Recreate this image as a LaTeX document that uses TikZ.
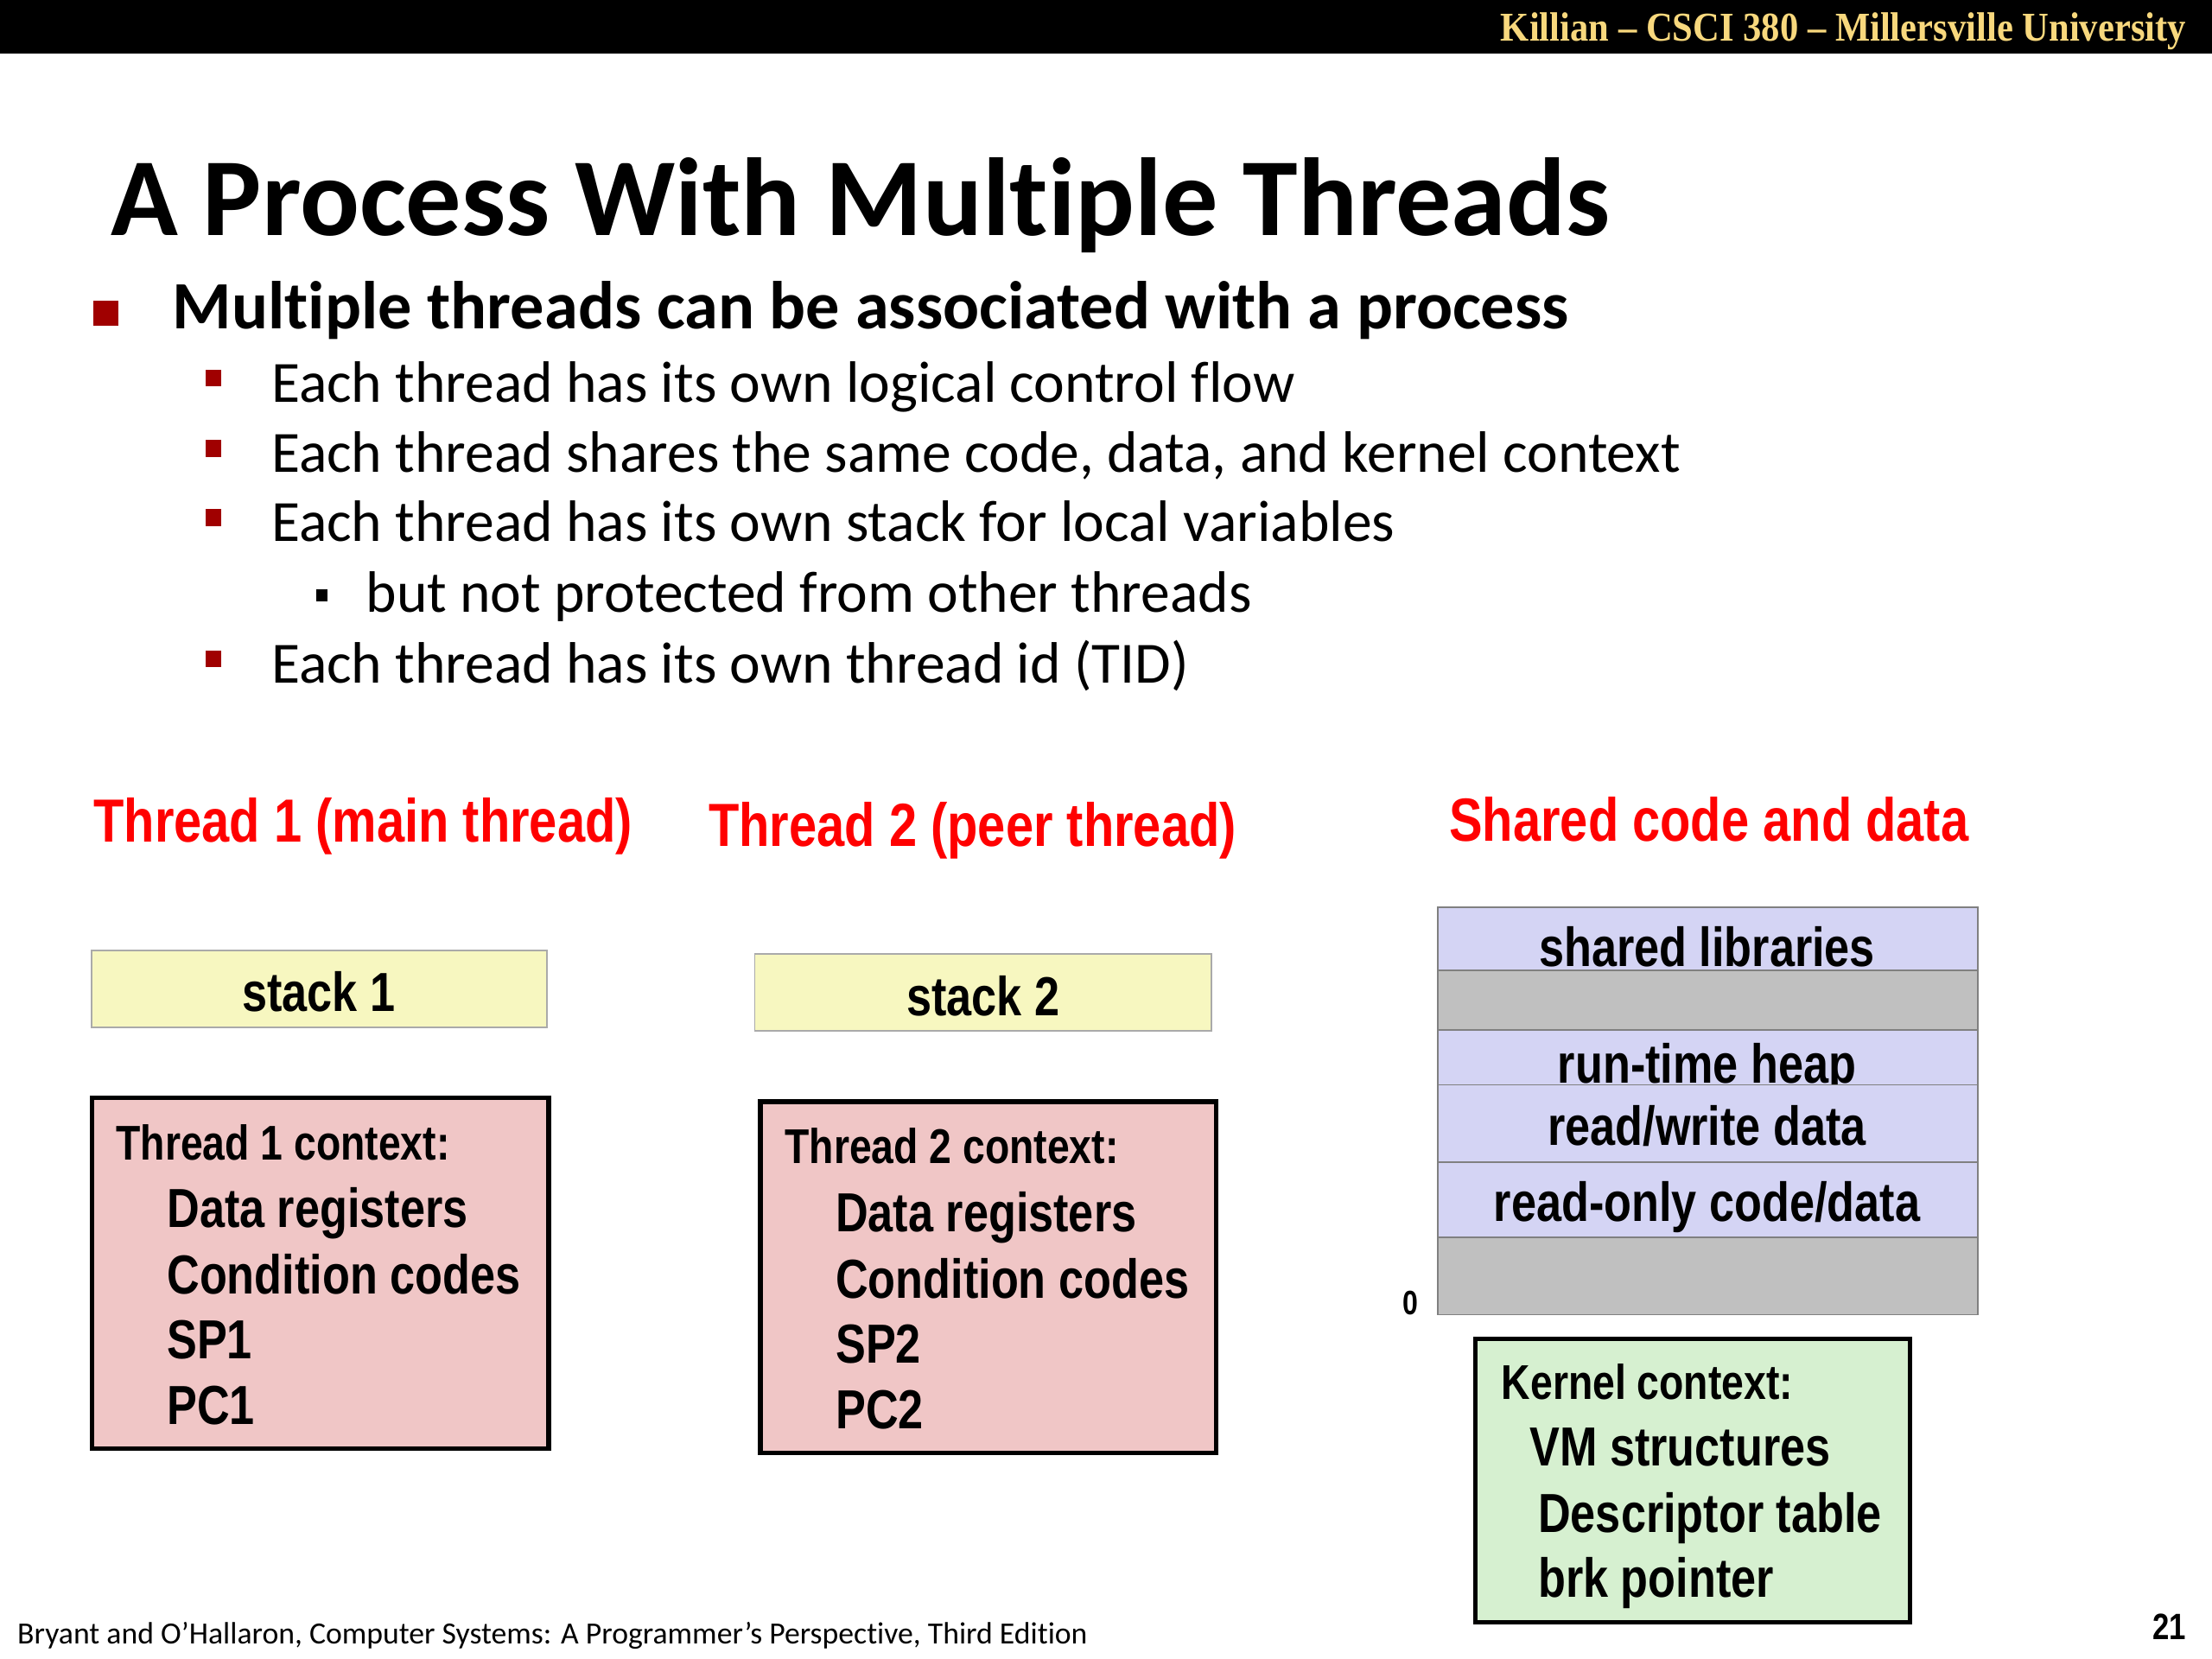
\documentclass[tikz,border=0pt]{standalone}
\usepackage{fontspec}
\setmainfont[Ligatures={TeX,NoCommon}]{Carlito}
\newfontfamily\narrowfont[FakeStretch=0.82]{Liberation Sans}
\newfontfamily\hdrfont[FakeStretch=0.9]{Liberation Serif}
\definecolor{bulletred}{RGB}{160,0,0}
\definecolor{headred}{RGB}{255,0,0}
\definecolor{stackyellow}{RGB}{247,247,192}
\definecolor{stackborder}{RGB}{170,170,170}
\definecolor{pinkfill}{RGB}{240,198,198}
\definecolor{lav}{RGB}{212,212,244}
\definecolor{greyseg}{RGB}{192,192,192}
\definecolor{segborder}{RGB}{128,128,128}
\definecolor{greenfill}{RGB}{214,240,208}
\definecolor{gold}{RGB}{248,216,125}
\tikzset{
  txt/.style={inner sep=0pt, anchor=base west},
  titletxt/.style={txt, font=\fontsize{39.3}{39.3}\selectfont\bfseries},
  lonetxt/.style={txt, font=\fontsize{24}{24}\selectfont\bfseries},
  ltwotxt/.style={txt, font=\fontsize{20.7}{20.7}\selectfont},
  headtxt/.style={txt, text=headred, font=\narrowfont\fontsize{21.6}{21.6}\selectfont\bfseries},
  boxhead/.style={txt, font=\narrowfont\fontsize{17.3}{17.3}\selectfont\bfseries},
  boxitem/.style={txt, font=\narrowfont\fontsize{19.5}{19.5}\selectfont\bfseries},
  segtxt/.style={inner sep=0pt, anchor=base, font=\narrowfont\fontsize{19.5}{19.5}\selectfont\bfseries},
  stackbox/.style={fill=stackyellow, draw=stackborder, line width=0.6pt},
  ctxbox/.style={fill=pinkfill, draw=black, line width=1.6pt},
  kernbox/.style={fill=greenfill, draw=black, line width=1.6pt},
  lavseg/.style={fill=lav, draw=segborder, line width=0.5pt},
  greyseg/.style={fill=greyseg, draw=segborder, line width=0.5pt},
  bigbullet/.style={fill=bulletred, draw=none},
  redbullet/.style={fill=bulletred, draw=none},
  blkbullet/.style={fill=black, draw=none},
}
\begin{document}
\begin{tikzpicture}[x=0.5pt, y=-0.5pt]
\useasboundingbox (0,0) rectangle (1568,1176);
% header bar
\fill[black] (0,0) rectangle (1568,38);
\node[inner sep=0pt, anchor=base east, text=gold, font=\hdrfont\fontsize{14.5}{14.5}\selectfont\bfseries] (hdr) at (1550,29) {Killian – CSCI 380 – Millersville University};
% title
\node[titletxt] (title) at (78,167) {A Process With Multiple Threads};
% bullets
\fill[bigbullet] (66,213) rectangle (84,231);
\node[lonetxt] (l1) at (122,233) {Multiple threads can be associated with a process};
\fill[redbullet] (146,262) rectangle (157,274);
\node[ltwotxt] (l2a) at (192,285) {Each thread has its own logical control flow};
\fill[redbullet] (146,312) rectangle (157,324);
\node[ltwotxt] (l2b) at (192,335) {Each thread shares the same code, data, and kernel context};
\fill[redbullet] (146,361) rectangle (157,373);
\node[ltwotxt] (l2c) at (192,384) {Each thread has its own stack for local variables};
\fill[blkbullet] (224,418) rectangle (232,426);
\node[ltwotxt] (l3a) at (259,434) {but not protected from other threads};
\fill[redbullet] (146,461) rectangle (157,473);
\node[ltwotxt] (l2d) at (192,484) {Each thread has its own thread id (TID)};
% headings
\node[headtxt] (h1) at (66,597) {Thread 1 (main thread)};
\node[headtxt] (h2) at (502,600) {Thread 2 (peer thread)};
\node[headtxt] (h3) at (1027,596) {Shared code and data};
% stacks
\draw[stackbox] (65,674) rectangle (388,728);
\node[segtxt] (s1) at (226,717) {stack 1};
\draw[stackbox] (535,676) rectangle (859,731);
\node[segtxt] (s2) at (697,720) {stack 2};
% thread 1 context
\draw[ctxbox] (65,778) rectangle (389,1027);
\node[boxhead] (c1h) at (82,822) {Thread 1 context:};
\node[boxitem] (c1a) at (118,870) {Data registers};
\node[boxitem] (c1b) at (118,917) {Condition codes};
\node[boxitem] (c1c) at (118,963) {SP1};
\node[boxitem] (c1d) at (118,1010) {PC1};
% thread 2 context
\draw[ctxbox] (539,781) rectangle (862,1030);
\node[boxhead] (c2h) at (556,825) {Thread 2 context:};
\node[boxitem] (c2a) at (592,873) {Data registers};
\node[boxitem] (c2b) at (592,920) {Condition codes};
\node[boxitem] (c2c) at (592,966) {SP2};
\node[boxitem] (c2d) at (592,1013) {PC2};
% shared memory
\draw[lavseg] (1019,643) rectangle (1402,688);
\node[segtxt] (m1) at (1210,685) {shared libraries};
\draw[greyseg] (1019,688) rectangle (1402,730);
\draw[lavseg] (1019,730) rectangle (1402,769);
\node[segtxt] (m2) at (1210,768) {run-time heap};
\draw[lavseg] (1019,769) rectangle (1402,824);
\node[segtxt] (m3) at (1210,812) {read/write data};
\draw[lavseg] (1019,824) rectangle (1402,877);
\node[segtxt] (m4) at (1210,866) {read-only code/data};
\draw[greyseg] (1019,877) rectangle (1402,932);
\node[inner sep=0pt, anchor=base, font=\narrowfont\fontsize{12}{12}\selectfont\bfseries] (zero) at (1000,932) {0};
% kernel context
\draw[kernbox] (1046,949) rectangle (1354,1150);
\node[boxhead] (kh) at (1064,992) {Kernel context:};
\node[boxitem] (ka) at (1084,1039) {VM structures};
\node[boxitem] (kb) at (1090,1086) {Descriptor table};
\node[boxitem] (kc) at (1090,1132) {brk pointer};
% footer
\node[txt, font=\fontsize{10.93}{10.93}\selectfont] (foot) at (12,1165) {Bryant and O’Hallaron, Computer Systems: A Programmer’s Perspective, Third Edition};
\node[inner sep=0pt, anchor=base east, font=\narrowfont\fontsize{13}{13}\selectfont\bfseries] (pg) at (1550,1162) {21};
\end{tikzpicture}
\end{document}
